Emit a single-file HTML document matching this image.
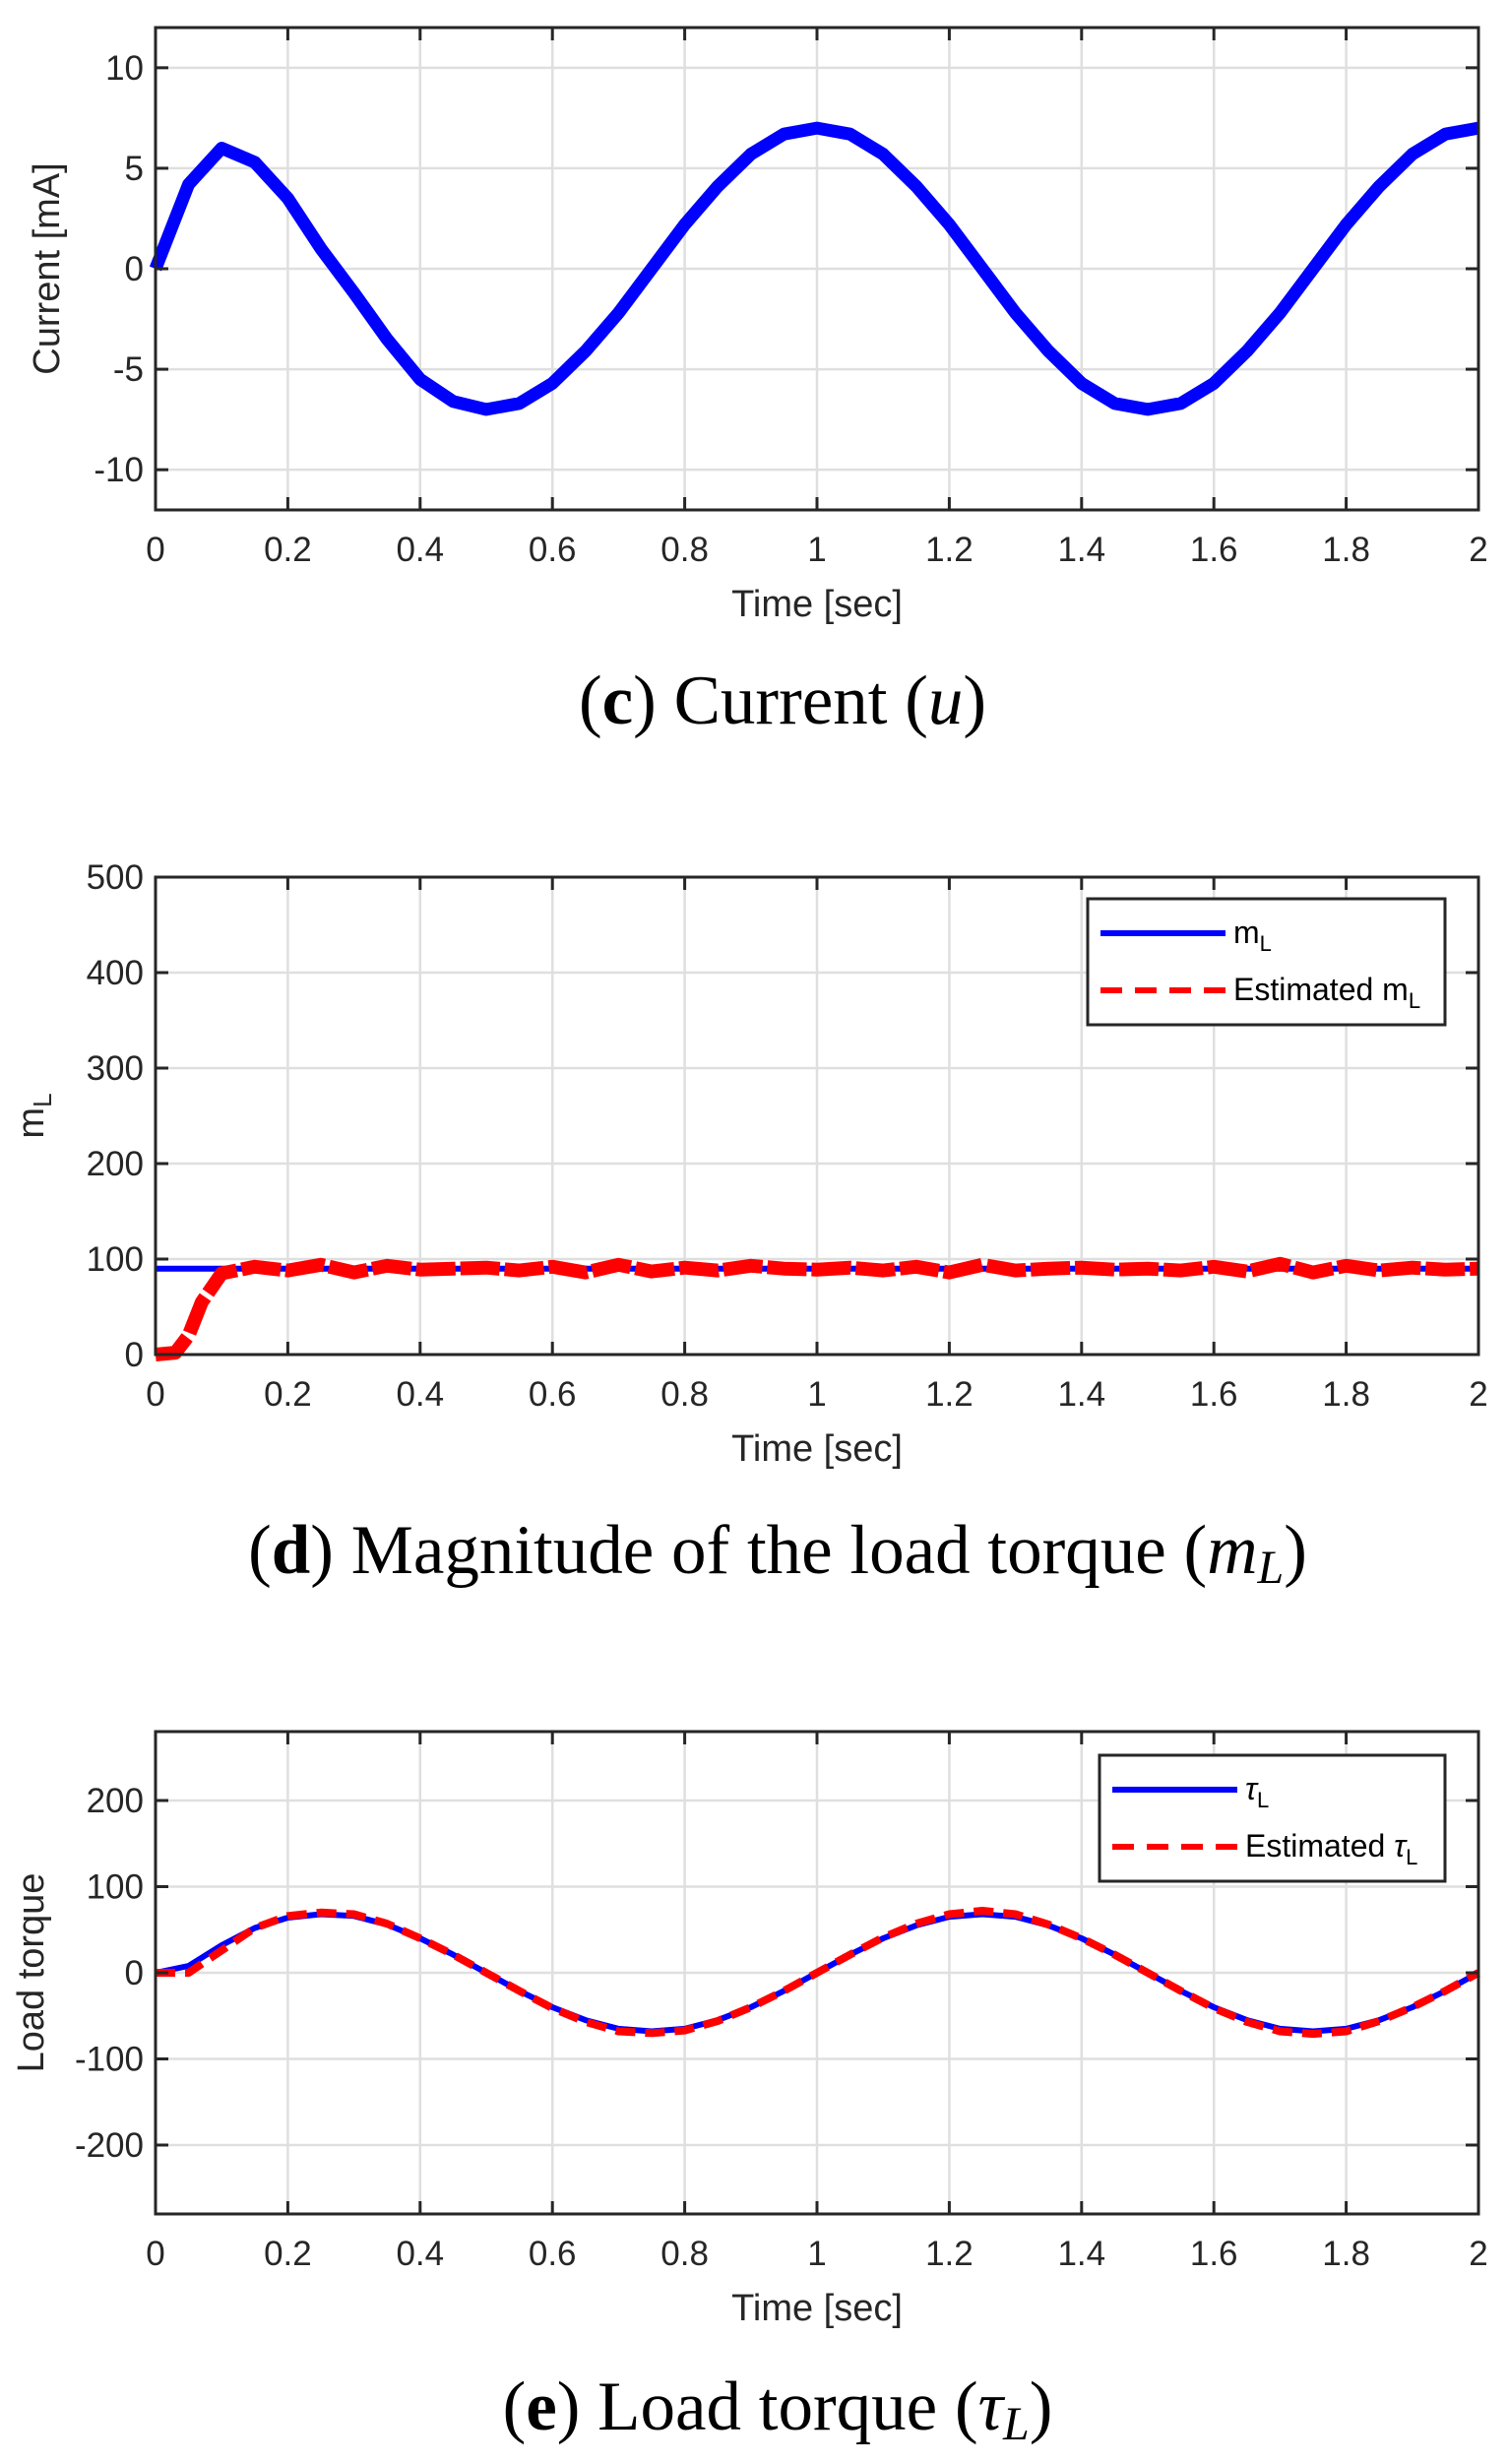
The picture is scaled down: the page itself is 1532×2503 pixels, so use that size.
<!DOCTYPE html>
<html><head><meta charset="utf-8"><style>
body{margin:0;background:#fff;}
svg{display:block;}
.tk{font-family:"Liberation Sans",sans-serif;font-size:35px;fill:#262626;}
.at{font-family:"Liberation Sans",sans-serif;font-size:38px;fill:#262626;}
.cap{font-family:"Liberation Serif",serif;font-size:71px;fill:#000;}
.lg{font-family:"Liberation Sans",sans-serif;font-size:32px;fill:#000;}
</style></head><body>
<svg id="fig" width="1532" height="2503" viewBox="0 0 1532 2503" xmlns="http://www.w3.org/2000/svg">
<text class="cap" x="795" y="735" text-anchor="middle">(<tspan font-weight="bold">c</tspan>) Current (<tspan font-style="italic">u</tspan>)</text>
<text class="cap" x="790" y="1598" text-anchor="middle">(<tspan font-weight="bold">d</tspan>) Magnitude of the load torque (<tspan font-style="italic">m<tspan font-size="48" dy="10">L</tspan></tspan><tspan dy="-10">)</tspan></text>
<text class="cap" x="790" y="2468" text-anchor="middle">(<tspan font-weight="bold">e</tspan>) Load torque (<tspan font-style="italic">τ<tspan font-size="48" dy="10">L</tspan></tspan><tspan dy="-10">)</tspan></text>
</svg>
<script>
const timeC = [0,0.05,0.1,0.15,0.2,0.25,0.3,0.35,0.4,0.45,0.5,0.55,0.6,0.65,0.7,0.75,0.8,0.85,0.9,0.95,1,1.05,1.1,1.15,1.2,1.25,1.3,1.35,1.4,1.45,1.5,1.55,1.6,1.65,1.7,1.75,1.8,1.85,1.9,1.95,2];
const currentVals = [0,4.2,6.0,5.3,3.5,1.0,-1.2,-3.5,-5.5,-6.6,-7.0,-6.7,-5.7,-4.1,-2.2,0,2.2,4.1,5.7,6.7,7.0,6.7,5.7,4.1,2.2,0,-2.2,-4.1,-5.7,-6.7,-7.0,-6.7,-5.7,-4.1,-2.2,0,2.2,4.1,5.7,6.7,7.0];
const mTime = [0,0.03,0.05,0.07,0.1,0.15,0.2,0.25,0.3,0.35,0.4,0.45,0.5,0.55,0.6,0.65,0.7,0.75,0.8,0.85,0.9,0.95,1,1.05,1.1,1.15,1.2,1.25,1.3,1.35,1.4,1.45,1.5,1.55,1.6,1.65,1.7,1.75,1.8,1.85,1.9,1.95,2];
const mTrue = [90,90,90,90,90,90,90,90,90,90,90,90,90,90,90,90,90,90,90,90,90,90,90,90,90,90,90,90,90,90,90,90,90,90,90,90,90,90,90,90,90,90,90];
const mEst = [0,2,20,55,85,92,88,94,86,93,89,90,91,88,92,86,94,87,91,88,93,90,89,91,88,92,86,94,88,90,91,89,90,88,92,87,95,86,93,88,91,89,90];
const tTime = timeC;
const tauTrue = [0,8,32,52,64,68,66,56,40,21,0,-21,-40,-55,-65,-68,-65,-55,-40,-21,0,21,40,55,65,68,65,55,40,21,0,-21,-40,-55,-65,-68,-65,-55,-40,-21,0];
const tauEst = [0,0,26,52,66,70,68,57,40,21,0,-21,-41,-57,-68,-70,-67,-56,-40,-21,0,21,41,57,68,72,68,56,40,21,0,-21,-41,-57,-68,-71,-68,-56,-40,-21,0];
const xTicks = [0,0.2,0.4,0.6,0.8,1,1.2,1.4,1.6,1.8,2];
const xTickLabels = ["0","0.2","0.4","0.6","0.8","1","1.2","1.4","1.6","1.8","2"];
const yTicksC = [-10,-5,0,5,10];
const yTicksD = [0,100,200,300,400,500];
const yTicksE = [-200,-100,0,100,200];

const NS="http://www.w3.org/2000/svg";
const svg=document.getElementById('fig');
function mk(tag,attrs,parent){const e=document.createElementNS(NS,tag);for(const k in attrs)e.setAttribute(k,attrs[k]);(parent||svg).appendChild(e);return e;}
const X0=158,X1=1502;
function xs(t){return X0+(t-0)/(2-0)*(X1-X0);}

function axes(name,top,bot,ymin,ymax,yt,ylabel,ylx){
  const g=mk('g',{});
  
  
  const ys=v=>bot-(v-ymin)/(ymax-ymin)*(bot-top);
  xTicks.forEach((t,i)=>{
    const l=mk('line',{x1:xs(t),x2:xs(t),y1:top,y2:bot,stroke:'#dfdfdf','stroke-width':2.5},g);
    
    
  });
  yt.forEach(v=>{
    const l=mk('line',{x1:X0,x2:X1,y1:ys(v),y2:ys(v),stroke:'#dfdfdf','stroke-width':2.5},g);
    
    
  });
  return {g,ys,top,bot,yt,ylabel,ylx};
}
function frame(a){
  const {g,ys,top,bot,yt}=a;
  const r=mk('rect',{x:X0,y:top,width:X1-X0,height:bot-top,fill:'none',stroke:'#262626','stroke-width':3},g);
  
  
  xTicks.forEach((t,i)=>{
    mk('line',{x1:xs(t),x2:xs(t),y1:bot,y2:bot-13,stroke:'#262626','stroke-width':3},g);
    mk('line',{x1:xs(t),x2:xs(t),y1:top,y2:top+13,stroke:'#262626','stroke-width':3},g);
    const tx=mk('text',{class:'tk',x:xs(t),y:bot+52,'text-anchor':'middle'},g);
    tx.textContent=xTickLabels[i];
    
    
  });
  yt.forEach(v=>{
    mk('line',{x1:X0,x2:X0+13,y1:ys(v),y2:ys(v),stroke:'#262626','stroke-width':3},g);
    mk('line',{x1:X1,x2:X1-13,y1:ys(v),y2:ys(v),stroke:'#262626','stroke-width':3},g);
    const tx=mk('text',{class:'tk',x:X0-12,y:ys(v)+12,'text-anchor':'end'},g);
    tx.textContent=String(v);
    
    
  });
  const xt=mk('text',{class:'at',x:(X0+X1)/2,y:bot+108,'text-anchor':'middle'},g);
  xt.textContent='Time [sec]';
  
  
  const cy=(top+bot)/2;
  const yl=mk('text',{class:'at',x:a.ylx,y:cy,'text-anchor':'middle',transform:`rotate(-90 ${a.ylx} ${cy})`},g);
  yl.innerHTML=a.ylabel;
  
  
}
function series(a,xsArr,ysArr,color,w,dash,name){
  const d=xsArr.map((t,i)=>(i?'L':'M')+xs(t).toFixed(1)+','+a.ys(ysArr[i]).toFixed(1)).join(' ');
  const p=mk('path',{d,fill:'none',stroke:color,'stroke-width':w,'stroke-linejoin':'round'},a.g);
  if(dash)p.setAttribute('stroke-dasharray',dash);
  
  
}
function legend(a,bx,by,bw,bh,rows){
  const lg=mk('g',{},a.g);
  
  
  mk('rect',{x:bx,y:by,width:bw,height:bh,fill:'#fff',stroke:'#262626','stroke-width':3},lg);
  rows.forEach(r=>{
    const l=mk('line',{x1:bx+13,x2:bx+140,y1:r.y,y2:r.y,stroke:r.c,'stroke-width':6},lg);
    if(r.dash)l.setAttribute('stroke-dasharray',r.dash);
    
    
    const t=mk('text',{class:'lg',x:bx+148,y:r.y+10},lg);
    t.innerHTML=r.label;
    
    
  });
}

// Panel c
const ac=axes('current-chart',28,518,-12,12,yTicksC,'Current [mA]',60);
series(ac,timeC,currentVals,'#0000ff',13,null,'current-line');
frame(ac);

// Panel d
const ad=axes('load-magnitude-chart',891,1376,0,500,yTicksD,'m<tspan font-size="26" dy="8">L</tspan>',44);
series(ad,mTime,mTrue,'#0000ff',6,null,'mL-true-line');
series(ad,mTime,mEst,'#ff0000',14,'40 5','mL-estimated-line');
frame(ad);
legend(ad,1105,913,363,128,[{y:948,c:'#0000ff',label:'m<tspan font-size="22" dy="8">L</tspan>'},{y:1006,c:'#ff0000',dash:'22 13',label:'Estimated m<tspan font-size="22" dy="8">L</tspan>'}]);

// Panel e
const ae=axes('load-torque-chart',1759,2249,-280,280,yTicksE,'Load torque',44);
series(ae,tTime,tauTrue,'#0000ff',6,null,'tau-true-line');
series(ae,tTime,tauEst,'#ff0000',8,'20 10','tau-estimated-line');
frame(ae);
legend(ae,1117,1783,351,128,[{y:1818,c:'#0000ff',label:'<tspan font-style="italic">τ</tspan><tspan font-size="22" dy="8">L</tspan>'},{y:1876,c:'#ff0000',dash:'22 13',label:'Estimated <tspan font-style="italic">τ</tspan><tspan font-size="22" dy="8">L</tspan>'}]);
</script>
</body></html>
